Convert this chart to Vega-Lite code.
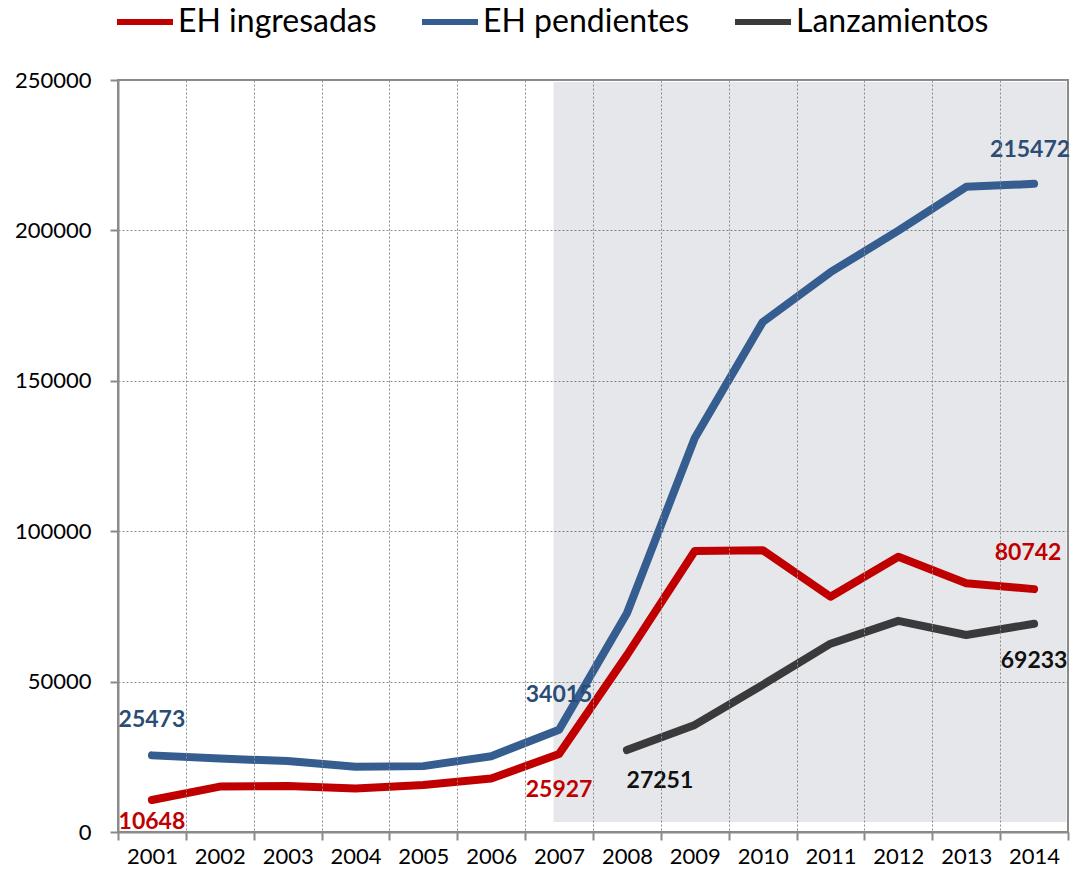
{
  "$schema": "https://vega.github.io/schema/vega-lite/v6.json",
  "width": 950,
  "height": 752,
  "autosize": {"type": "none"},
  "padding": {"left": 118, "top": 80, "right": 4, "bottom": 46},
  "background": "white",
  "config": {"font": "Lato", "view": {"stroke": "#8a8a8a", "strokeWidth": 2}},
  "data": {
    "values": [
      {"year": "2001", "series": "EH ingresadas", "value": 10648},
      {"year": "2002", "series": "EH ingresadas", "value": 15100},
      {"year": "2003", "series": "EH ingresadas", "value": 15300},
      {"year": "2004", "series": "EH ingresadas", "value": 14500},
      {"year": "2005", "series": "EH ingresadas", "value": 15600},
      {"year": "2006", "series": "EH ingresadas", "value": 17800},
      {"year": "2007", "series": "EH ingresadas", "value": 25927},
      {"year": "2008", "series": "EH ingresadas", "value": 58800},
      {"year": "2009", "series": "EH ingresadas", "value": 93400},
      {"year": "2010", "series": "EH ingresadas", "value": 93700},
      {"year": "2011", "series": "EH ingresadas", "value": 78200},
      {"year": "2012", "series": "EH ingresadas", "value": 91500},
      {"year": "2013", "series": "EH ingresadas", "value": 82700},
      {"year": "2014", "series": "EH ingresadas", "value": 80742},
      {"year": "2001", "series": "EH pendientes", "value": 25473},
      {"year": "2002", "series": "EH pendientes", "value": 24400},
      {"year": "2003", "series": "EH pendientes", "value": 23600},
      {"year": "2004", "series": "EH pendientes", "value": 21700},
      {"year": "2005", "series": "EH pendientes", "value": 21900},
      {"year": "2006", "series": "EH pendientes", "value": 25200},
      {"year": "2007", "series": "EH pendientes", "value": 34015},
      {"year": "2008", "series": "EH pendientes", "value": 72700},
      {"year": "2009", "series": "EH pendientes", "value": 131000},
      {"year": "2010", "series": "EH pendientes", "value": 169500},
      {"year": "2011", "series": "EH pendientes", "value": 186100},
      {"year": "2012", "series": "EH pendientes", "value": 199900},
      {"year": "2013", "series": "EH pendientes", "value": 214500},
      {"year": "2014", "series": "EH pendientes", "value": 215472},
      {"year": "2008", "series": "Lanzamientos", "value": 27251},
      {"year": "2009", "series": "Lanzamientos", "value": 35600},
      {"year": "2010", "series": "Lanzamientos", "value": 48900},
      {"year": "2011", "series": "Lanzamientos", "value": 62600},
      {"year": "2012", "series": "Lanzamientos", "value": 70200},
      {"year": "2013", "series": "Lanzamientos", "value": 65500},
      {"year": "2014", "series": "Lanzamientos", "value": 69233}
    ]
  },
  "encoding": {
    "x": {
      "field": "year",
      "type": "ordinal",
      "scale": {"type": "band", "paddingInner": 0, "paddingOuter": 0},
      "axis": {
        "title": null,
        "labelAngle": 0,
        "tickBand": "extent",
        "grid": true,
        "gridDash": [2, 2],
        "gridColor": "#8c8c8c",
        "gridWidth": 1,
        "domainColor": "#8a8a8a",
        "domainWidth": 2,
        "tickColor": "#8a8a8a",
        "tickWidth": 2,
        "tickSize": 8,
        "labelFontSize": 22,
        "labelFont": "Lato",
        "labelColor": "black",
        "labelPadding": 6
      }
    },
    "y": {
      "field": "value",
      "type": "quantitative",
      "scale": {"domain": [0, 250000], "nice": false},
      "axis": {
        "title": null,
        "values": [0, 50000, 100000, 150000, 200000, 250000],
        "format": "d",
        "grid": true,
        "gridDash": [2, 2],
        "gridColor": "#8c8c8c",
        "gridWidth": 1,
        "domainColor": "#8a8a8a",
        "domainWidth": 2,
        "tickColor": "#8a8a8a",
        "tickWidth": 2,
        "tickSize": 8,
        "labelFontSize": 22,
        "labelFont": "Lato",
        "labelColor": "black",
        "labelPadding": 19
      }
    }
  },
  "layer": [
    {
      "transform": [{"filter": "datum.year === '2007' && datum.series === 'EH ingresadas'"}],
      "mark": {"type": "rect", "fill": "#050f37", "fillOpacity": 0.1},
      "encoding": {
        "x": {"datum": "2007", "type": "ordinal", "bandPosition": 0.418},
        "x2": {"datum": "2014", "bandPosition": 0.978},
        "y": {"datum": 3300, "type": "quantitative"},
        "y2": {"datum": 249300}
      }
    },
    {
      "mark": {"type": "line", "strokeWidth": 8, "strokeCap": "round", "strokeJoin": "round"},
      "encoding": {
        "color": {
          "field": "series",
          "type": "nominal",
          "scale": {"domain": ["EH ingresadas", "EH pendientes", "Lanzamientos"], "range": ["#c00000", "#355d8f", "#3a3a3d"]},
          "legend": {
            "orient": "none",
            "legendX": -4,
            "legendY": -89,
            "direction": "horizontal",
            "title": null,
            "symbolType": "stroke",
            "symbolSize": 3136,
            "symbolStrokeWidth": 6,
            "labelFontSize": 32,
            "labelFont": "Lato",
            "labelColor": "black",
            "labelLimit": 0,
            "labelOffset": 2,
            "columnPadding": 33,
            "padding": 0
          }
        }
      }
    },
    {
      "transform": [{"filter": "datum.series === 'EH pendientes' && (datum.year === '2001' || datum.year === '2007')"}],
      "mark": {"type": "text", "fontWeight": "bold", "fontSize": 23, "color": "#2b4c74", "dy": -35, "align": "center", "baseline": "middle"},
      "encoding": {"text": {"field": "value", "type": "quantitative", "format": "d"}}
    },
    {
      "transform": [{"filter": "datum.series === 'EH pendientes' && datum.year === '2014'"}],
      "mark": {"type": "text", "fontWeight": "bold", "fontSize": 23, "color": "#2b4c74", "dx": -4, "dy": -34, "align": "center", "baseline": "middle"},
      "encoding": {"text": {"field": "value", "type": "quantitative", "format": "d"}}
    },
    {
      "transform": [{"filter": "datum.series === 'EH ingresadas' && datum.year === '2001'"}],
      "mark": {"type": "text", "fontWeight": "bold", "fontSize": 23, "color": "#c00000", "dy": 22, "align": "center", "baseline": "middle"},
      "encoding": {"text": {"field": "value", "type": "quantitative", "format": "d"}}
    },
    {
      "transform": [{"filter": "datum.series === 'EH ingresadas' && datum.year === '2007'"}],
      "mark": {"type": "text", "fontWeight": "bold", "fontSize": 23, "color": "#c00000", "dy": 36, "align": "center", "baseline": "middle"},
      "encoding": {"text": {"field": "value", "type": "quantitative", "format": "d"}}
    },
    {
      "transform": [{"filter": "datum.series === 'EH ingresadas' && datum.year === '2014'"}],
      "mark": {"type": "text", "fontWeight": "bold", "fontSize": 23, "color": "#c00000", "dx": -6, "dy": -36, "align": "center", "baseline": "middle"},
      "encoding": {"text": {"field": "value", "type": "quantitative", "format": "d"}}
    },
    {
      "transform": [{"filter": "datum.series === 'Lanzamientos' && datum.year === '2008'"}],
      "mark": {"type": "text", "fontWeight": "bold", "fontSize": 23, "color": "#111111", "dx": 33, "dy": 31, "align": "center", "baseline": "middle"},
      "encoding": {"text": {"field": "value", "type": "quantitative", "format": "d"}}
    },
    {
      "transform": [{"filter": "datum.series === 'Lanzamientos' && datum.year === '2014'"}],
      "mark": {"type": "text", "fontWeight": "bold", "fontSize": 23, "color": "#111111", "dy": 37, "align": "center", "baseline": "middle"},
      "encoding": {"text": {"field": "value", "type": "quantitative", "format": "d"}}
    }
  ]
}
